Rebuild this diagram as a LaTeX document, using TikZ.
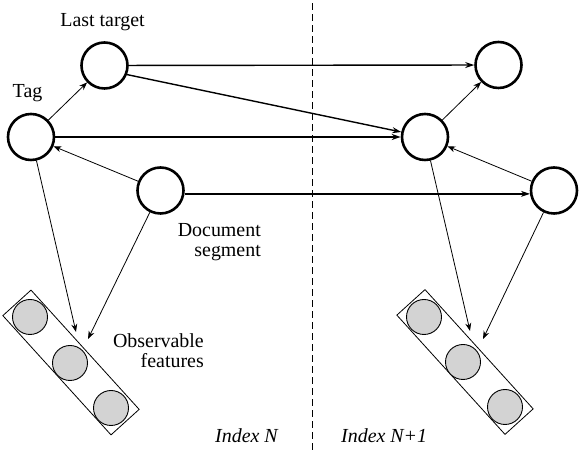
\documentclass[tikz,border=0pt]{standalone}
\usepackage{fontspec}
\setmainfont{Liberation Serif}
\usetikzlibrary{arrows.meta}
\definecolor{featgray}{RGB}{211,211,211}

\tikzset{
  hidden/.style={circle, draw, line width=2.6bp, minimum size=46bp, inner sep=0pt},
  obs/.style={circle, draw, fill=featgray, line width=0.9bp, minimum size=35bp, inner sep=0pt},
  featbox/.style={rectangle, draw, line width=0.8bp, minimum width=161bp, minimum height=38bp, rotate=-47.8},
  lbl/.style={inner sep=0pt, font=\fontsize{20}{20.5}\selectfont},
  link/.style={line width=0.8bp, -{Stealth[length=8bp,width=6bp]}},
  trans/.style={line width=1.4bp, -{Stealth[length=9bp,width=6bp]}},
}

\begin{document}
\begin{tikzpicture}[x=1bp, y=1bp]
\useasboundingbox (0,0) rectangle (580,450);

% time slice divider
\draw[line width=0.8bp, dash pattern=on 7bp off 4bp] (312,0) -- (312,450);

% observable features
\node[featbox] (box1) at (71,87.5) {};
\node[featbox] (box2) at (465,88) {};
\foreach \x/\y [count=\i] in {30/133, 70/87, 111/42}
  \node[obs] (f1\i) at (\x,\y) {};
\foreach \x/\y [count=\i] in {424/133, 463/88, 505/43}
  \node[obs] (f2\i) at (\x,\y) {};

% hidden states
\node[hidden] (lt)   at (104.5,384.5) {};
\node[hidden] (tag)  at (31,313) {};
\node[hidden] (doc)  at (160.5,259.5) {};
\node[hidden] (lt2)  at (498.5,385) {};
\node[hidden] (tag2) at (425,313) {};
\node[hidden] (doc2) at (554,259.5) {};

\coordinate (fa1) at (76,118);
\coordinate (fb1) at (88,111);
\coordinate (fa2) at (470,119);
\coordinate (fb2) at (483,111);

% within a slice
\draw[link] (tag) -- (lt);
\draw[link] (doc) -- (tag);
\draw[link] (tag) -- (fa1);
\draw[link] (doc) -- (fb1);
\draw[link] (tag2) -- (lt2);
\draw[link] (doc2) -- (tag2);
\draw[link] (tag2) -- (fa2);
\draw[link] (doc2) -- (fb2);

% between slices
\draw[trans] (lt) -- (lt2);
\draw[trans] (lt.-22) -- (tag2);
\draw[trans] (tag) -- (tag2);
\draw[trans] (doc.-8) -- (doc2.188);

% labels
\node[lbl, anchor=base] (ltlbl) at (102.5,423) {Last target};
\node[lbl, anchor=base] (taglbl) at (27.5,352) {Tag};
\node[lbl, anchor=north east, align=right] (doclbl) at (261,227) {Document\\segment};
\node[lbl, anchor=north east, align=right] (obslbl) at (204,116.5) {Observable\\features};
\node[lbl, anchor=base west] (idx1) at (215,7) {\textit{Index N}};
\node[lbl, anchor=base west] (idx2) at (341,7) {\textit{Index N+1}};
\end{tikzpicture}
\end{document}
